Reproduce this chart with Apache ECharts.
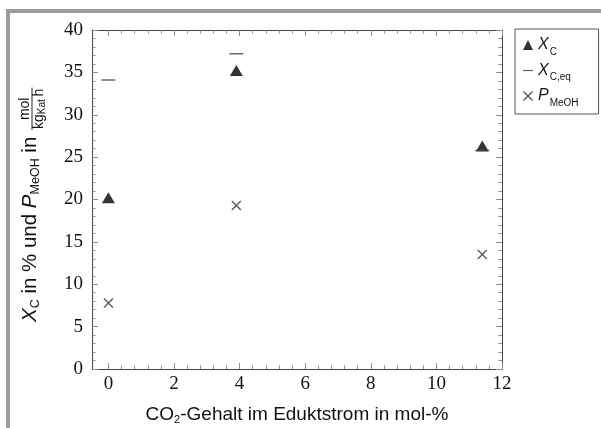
<!DOCTYPE html>
<html>
<head>
<meta charset="utf-8">
<script src="https://cdn.jsdelivr.net/npm/echarts@6/dist/echarts.min.js"></script>
<style>
  html, body { margin: 0; padding: 0; background: #fff; }
  #chart { width: 601px; height: 428px; }
</style>
</head>
<body>
<div id="chart"></div>
<script>
// CO2 content of the feed stream, mol-%
const co2Content = [0, 3.9, 11.4];
// Carbon conversion X_C, %
const conversion = [20, 35, 26.1];
// Equilibrium conversion X_C,eq, %
const conversionEq = [34.1, 37.2, 25.8];
// Methanol productivity P_MeOH, mol/(kg_Kat h)
const productivity = [7.8, 19.3, 13.5];

// Axis ticks
const xTickValues = [0, 2, 4, 6, 8, 10, 12];
const yTickValues = [0, 5, 10, 15, 20, 25, 30, 35, 40];

const SANS = "'Liberation Sans', Arial, Helvetica, sans-serif";
const SERIF = "'Liberation Serif', 'DejaVu Serif', serif";
const TICK_GRAY = '#8c8c8c';
const BOX_GRAY = '#4a4a4a';

// minor x ticks: 5 subdivisions per major step
const xMinorValues = [];
for (let i = 0; i < xTickValues.length - 1; i++) {
  const a = xTickValues[i], b = xTickValues[i + 1];
  for (let k = 1; k < 5; k++) xMinorValues.push(+(a + (b - a) * k / 5).toFixed(4));
}

const pairs = ys => co2Content.map((x, i) => [x, ys[i]]);

const crossPath = 'path://M0,1L1,0L5,4L9,0L10,1L6,5L10,9L9,10L5,6L1,10L0,9L4,5Z';
const dashPath = 'path://M0,0L10,0L10,1.3L0,1.3Z';

// text measuring for the hand-set y-axis title
const mctx = document.createElement('canvas').getContext('2d');
function textWidth(t, size, italic) {
  mctx.font = (italic ? 'italic ' : '') + size + 'px ' + SANS;
  return mctx.measureText(t).width;
}
function runPieces(pieces, x0) {
  let x = x0;
  const els = [];
  pieces.forEach(p => {
    els.push({
      type: 'text',
      style: {
        text: p.t, x: x, y: p.dy || 0,
        fontSize: p.size, fontFamily: SANS,
        fontStyle: p.italic ? 'italic' : 'normal',
        fill: '#111', align: 'left', verticalAlign: 'middle'
      }
    });
    x += textWidth(p.t, p.size, p.italic);
  });
  return { els, end: x };
}

// y-axis title: "X_C in % und P_MeOH in mol / (kg_Kat h)"
function buildYTitle() {
  const main = runPieces([
    { t: 'X', size: 20.5, italic: true },
    { t: 'C', size: 12.5, dy: 5.5 },
    { t: ' in % und ', size: 20.5 },
    { t: 'P', size: 20.5, italic: true },
    { t: 'MeOH', size: 12.5, dy: 5.5 },
    { t: ' in ', size: 20.5 }
  ], 0);
  const fx = main.end + 1;
  const wn = textWidth('mol', 14, false);
  const wd = textWidth('kg', 14, false) + textWidth('Kat', 10, false) + textWidth('\u2009h', 14, false);
  const fw = Math.max(wn, wd) + 2;
  const num = runPieces([{ t: 'mol', size: 14, dy: -5 }], fx + (fw - wn) / 2);
  const den = runPieces([
    { t: 'kg', size: 14, dy: 8.5 },
    { t: 'Kat', size: 10, dy: 11.5 },
    { t: '\u2009h', size: 14, dy: 8.5 }
  ], fx + (fw - wd) / 2);
  const bar = {
    type: 'line',
    shape: { x1: fx, y1: 1.5, x2: fx + fw, y2: 1.5 },
    style: { stroke: '#111', lineWidth: 0.9 }
  };
  return {
    type: 'group',
    x: 30.5, y: 322,
    rotation: Math.PI / 2,
    children: main.els.concat(num.els, den.els, [bar])
  };
}

const legendLabels = {
  'XC': '{i|X}{s|C}',
  'XCeq': '{i|X}{s|C,eq}',
  'PMeOH': '{i|P}{s|MeOH}'
};

function xAxisLayer(position, minor, withLabels, withLine) {
  const vals = minor ? xMinorValues : xTickValues;
  return {
    type: 'value', position: position, min: -0.5, max: 12,
    axisLine: { show: withLine, onZero: false, lineStyle: { color: BOX_GRAY, width: 1 } },
    axisTick: {
      show: true, inside: true, length: minor ? 3.5 : 6,
      customValues: vals, lineStyle: { color: TICK_GRAY, width: 1 }
    },
    axisLabel: withLabels ? {
      show: true, customValues: xTickValues, margin: 6,
      fontFamily: SERIF, fontSize: 19, color: '#111'
    } : { show: false },
    splitLine: { show: false },
    minorTick: { show: false }
  };
}

const chart = echarts.init(document.getElementById('chart'), null, { renderer: 'canvas' });

const xBottom = xAxisLayer('bottom', false, true, true);
xBottom.name = '{n|CO}{s|2}{n|-Gehalt im Eduktstrom in mol-%}';
xBottom.nameLocation = 'middle';
xBottom.nameGap = 35;
xBottom.nameTextStyle = {
  rich: {
    n: { fontFamily: SANS, fontSize: 19, color: '#111', lineHeight: 22, verticalAlign: 'middle' },
    s: { fontFamily: SANS, fontSize: 11, color: '#111', lineHeight: 12, padding: [10, 0, 0, 0], verticalAlign: 'top' }
  }
};

function yAxisLayer(position, withLabels) {
  return {
    type: 'value', position: position, min: 0, max: 40, interval: 5,
    axisLine: { show: true, onZero: false, lineStyle: { color: BOX_GRAY, width: 1 } },
    axisTick: { show: true, inside: true, length: 6, lineStyle: { color: TICK_GRAY, width: 1 } },
    minorTick: { show: true, splitNumber: 5, length: 3.5, lineStyle: { color: TICK_GRAY, width: 1 } },
    axisLabel: withLabels ? {
      show: true, margin: 9, fontFamily: SERIF, fontSize: 19, color: '#111',
      customValues: yTickValues
    } : { show: false },
    splitLine: { show: false },
    minorSplitLine: { show: false }
  };
}

chart.setOption({
  animation: false,
  backgroundColor: '#fff',
  grid: { left: 92, right: 99, top: 30, bottom: 59, containLabel: false, outerBoundsMode: 'none' },
  xAxis: [
    xBottom,
    xAxisLayer('bottom', true, false, false),
    xAxisLayer('top', false, false, true),
    xAxisLayer('top', true, false, false)
  ],
  yAxis: [
    yAxisLayer('left', true),
    yAxisLayer('right', false)
  ],
  legend: {
    orient: 'vertical',
    left: 515, top: 29,
    padding: [7, 20, 6, 8],
    itemGap: 4.5,
    itemWidth: 10, itemHeight: 10,
    borderColor: '#555', borderWidth: 1, borderRadius: 0,
    backgroundColor: '#fff',
    selectedMode: false,
    data: [
      { name: 'XC', icon: 'triangle' },
      { name: 'XCeq', icon: dashPath },
      { name: 'PMeOH', icon: crossPath }
    ],
    formatter: name => legendLabels[name],
    textStyle: {
      rich: {
        i: { fontFamily: SANS, fontStyle: 'italic', fontSize: 16, color: '#111', lineHeight: 18, verticalAlign: 'middle' },
        s: { fontFamily: SANS, fontSize: 10, color: '#111', lineHeight: 11, padding: [11, 0, 0, 1], verticalAlign: 'top' }
      }
    }
  },
  graphic: [
    { type: 'rect', shape: { x: 6, y: 9, width: 595, height: 4 }, style: { fill: '#9c9c9c' }, silent: true },
    { type: 'rect', shape: { x: 6, y: 9, width: 4, height: 419 }, style: { fill: '#9c9c9c' }, silent: true },
    buildYTitle()
  ],
  series: [
    {
      name: 'XC', type: 'scatter', xAxisIndex: 0, yAxisIndex: 0,
      symbol: 'triangle', symbolSize: [13, 11], symbolOffset: [0, -1.8],
      itemStyle: { color: '#000' },
      data: pairs(conversion)
    },
    {
      name: 'XCeq', type: 'scatter', xAxisIndex: 0, yAxisIndex: 0,
      symbol: 'rect', symbolSize: [14, 1.5],
      itemStyle: { color: '#444' },
      data: pairs(conversionEq)
    },
    {
      name: 'PMeOH', type: 'scatter', xAxisIndex: 0, yAxisIndex: 0,
      symbol: crossPath, symbolSize: 10,
      itemStyle: { color: '#333' },
      data: pairs(productivity)
    }
  ]
});
</script>
</body>
</html>
